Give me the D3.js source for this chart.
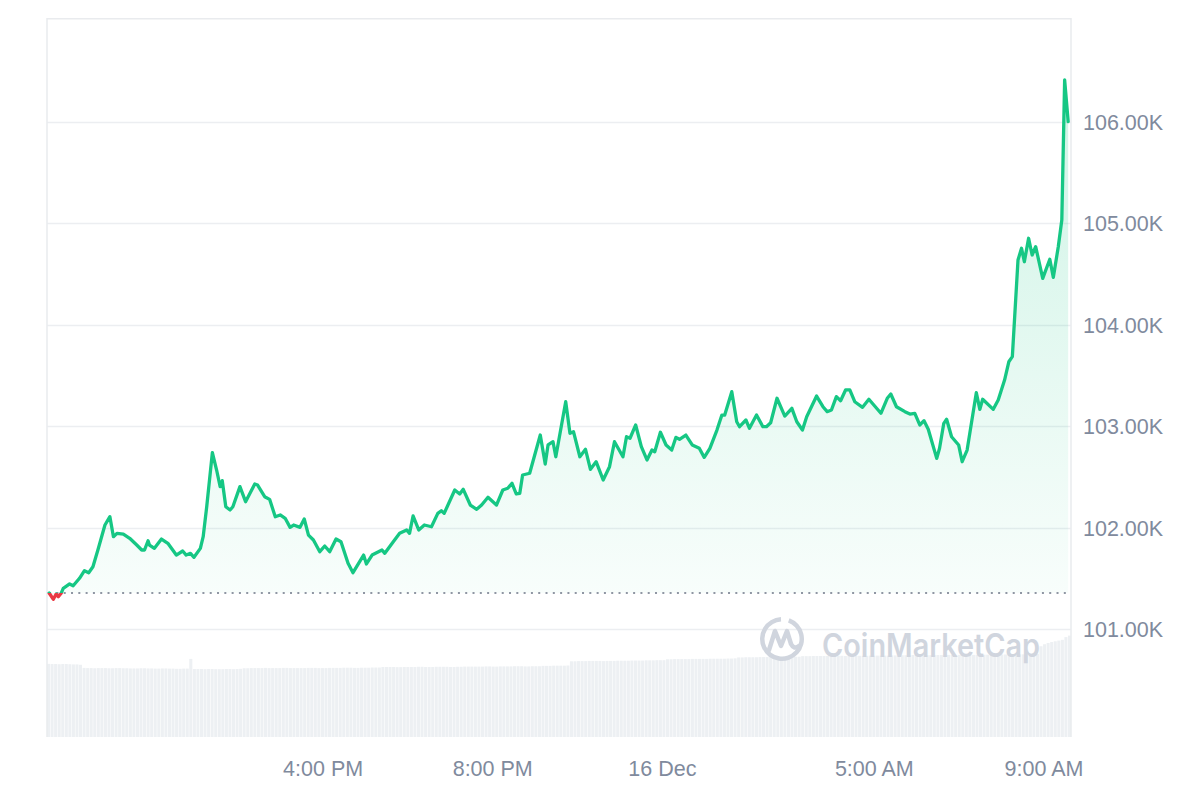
<!DOCTYPE html>
<html>
<head>
<meta charset="utf-8">
<script src="https://cdn.jsdelivr.net/npm/d3@7"></script>
<style>
  html, body { margin: 0; padding: 0; background: #ffffff; }
  svg { display: block; }
</style>
</head>
<body>
<svg id="chart" width="1200" height="800"></svg>
<script>
// ---- DATA (minutes since 15 Dec 2024 00:00, price in USD) ----
const times = [
  573,579,583,586,590,593,602,607,616,623,629,635,642,652,659,664,669,678,687,697,
  704,708,713,715,722,732,741,753,762,767,773,778,787,791,796,804,810,815,818,823,
  829,833,843,851,864,868,878,885,893,900,907,914,919,928,934,940,947,956,963,970,
  979,986,996,1003,1018,1022,1030,1044,1048,1060,1069,1079,1083,1088,1096,1104,1114,1123,1128,1132,
  1147,1154,1159,1169,1178,1185,1194,1206,1215,1222,1228,1234,1239,1243,1253,1268,1275,1279,1286,1290,
  1304,1310,1315,1324,1332,1339,1347,1357,1366,1373,1385,1390,1395,1403,1411,1419,1426,1430,1438,1446,
  1454,1460,1465,1474,1483,1490,1493,1500,1508,1518,1525,1529,1539,1546,1550,1559,1564,1574,1583,1588,
  1594,1603,1614,1624,1631,1639,1645,1659,1668,1674,1680,1687,1693,1700,1706,1713,1724,1733,1750,1759,
  1764,1772,1784,1791,1798,1805,1811,1817,1829,1833,1839,1843,1850,1860,1865,1872,1885,1890,1894,1909,
  1916,1925,1931,1936,1944,1949,1953,1959,1964,1969,1979,1989,1994,2001,2006,2010,2015
];
const prices = [
  101355,101293,101345,101318,101352,101401,101444,101427,101500,101575,101555,101614,101779,102025,102107,101910,101943,101936,101894,101828,
  101779,101779,101870,101828,101795,101887,101845,101729,101769,101729,101746,101707,101795,101910,102205,102738,102567,102403,102462,102205,
  102173,102205,102403,102255,102429,102419,102304,102278,102107,102124,102091,102002,102025,102002,102084,101926,101877,101762,101818,101762,
  101887,101860,101648,101555,101729,101641,101729,101779,101746,101860,101943,101976,101943,102114,101976,102025,102008,102140,102166,102140,
  102370,102331,102377,102222,102180,102222,102298,102222,102370,102387,102436,102331,102337,102518,102535,102912,102626,102814,102846,102698,
  103240,102929,102945,102698,102771,102574,102649,102469,102600,102846,102698,102895,102880,103011,102797,102666,102764,102747,102939,102814,
  102764,102889,102870,102912,102814,102791,102781,102692,102781,102961,103109,103109,103339,103043,102994,103060,102978,103109,102994,102994,
  103033,103274,103099,103175,103043,102961,103092,103296,103191,103142,103158,103290,103250,103356,103356,103240,103185,103264,103126,103274,
  103316,103191,103142,103119,103126,103011,103053,102968,102682,102781,103027,103067,102895,102814,102649,102764,103329,103165,103264,103165,
  103257,103454,103634,103684,104637,104752,104620,104851,104686,104768,104456,104644,104466,104768,105031,106411,106000
];
const openPrice = 101355;
// rolling 24h volume, billions USD, one bar per 5 minutes
const volumes = [
  39.9,39.8,39.8,39.7,39.8,39.8,39.7,39.6,39.6,39.4,37.7,37.6,37.6,37.5,37.6,37.6,37.6,37.5,37.5,37.6,37.6,37.5,37.5,37.4,
  37.4,37.4,37.5,37.5,37.4,37.4,37.3,37.3,37.4,37.4,37.3,37.3,37.2,37.2,37.3,37.3,42.6,37.1,37.1,37.1,37.0,37.1,37.1,37.0,
  37.0,37.0,37.1,37.1,37.0,37.1,37.2,37.5,37.5,37.6,37.6,37.6,37.6,37.7,37.6,37.6,37.6,37.6,37.7,37.7,37.6,37.6,37.6,37.6,
  37.6,37.7,37.7,37.7,37.6,37.6,37.6,37.7,37.7,37.7,37.7,37.8,37.8,37.8,37.7,37.7,37.8,37.8,37.8,37.9,37.9,37.9,38.2,38.2,
  38.2,38.2,38.1,38.1,38.2,38.2,38.2,38.2,38.3,38.3,38.2,38.2,38.2,38.3,38.3,38.3,38.3,38.2,38.2,38.3,38.3,38.4,38.4,38.4,
  38.4,38.4,38.4,38.5,38.5,38.4,38.4,38.5,38.5,38.5,38.5,38.6,38.6,38.6,38.5,38.5,38.6,38.6,38.6,38.8,38.8,38.8,38.9,38.9,
  38.9,38.9,39.0,41.3,41.3,41.4,41.4,41.4,41.5,41.5,41.5,41.5,41.4,41.5,41.5,41.5,41.6,41.6,41.6,41.6,41.7,41.7,41.7,41.7,
  41.8,41.8,41.8,41.9,41.9,41.9,42.4,42.4,42.5,42.5,42.5,42.5,42.5,42.6,42.6,42.6,42.6,42.6,42.7,42.7,42.7,42.7,42.7,42.8,
  42.8,42.9,43.4,43.4,43.5,43.5,43.5,43.5,43.6,43.6,43.6,43.6,43.6,43.7,43.7,43.7,43.7,43.8,43.8,43.8,44.1,44.1,44.1,44.2,
  44.2,44.2,44.2,44.2,44.3,44.3,44.3,44.3,44.2,44.2,44.2,44.3,44.3,44.3,44.3,44.4,44.4,44.4,44.4,44.4,44.4,44.5,44.5,44.5,
  44.6,44.6,44.6,44.7,44.7,44.7,44.7,44.6,44.6,44.7,44.7,44.7,44.7,44.8,44.8,44.8,44.8,44.8,44.7,44.7,44.8,44.8,44.8,44.9,
  44.9,44.9,44.9,45.0,45.0,45.0,45.0,45.1,45.1,45.1,45.1,45.2,45.2,45.3,45.4,49.5,50.6,51.3,51.8,52.2,52.6,53.0,54.5,55.3
];
const yTicks = [101000, 102000, 103000, 104000, 105000, 106000];
const xTickMinutes = [960, 1200, 1440, 1740, 1980];
const xTickLabels = ["4:00 PM", "8:00 PM", "16 Dec", "5:00 AM", "9:00 AM"];
const domainStartMin = 570, domainEndMin = 2019;

// ---- CHART ----
const base = new Date(2024, 11, 15, 0, 0);
const toDate = m => new Date(base.getTime() + m * 60000);
const data = times.map((t, i) => ({ t: toDate(t), p: prices[i] }));

const L = 47, R = 1071, T = 18.7, B = 737;
const svg = d3.select("#chart");

const x = d3.scaleTime().domain([toDate(domainStartMin), toDate(domainEndMin)]).range([L, R]);
const y = d3.scaleLinear().domain([100000, 107000]).range([730.5, 20.2]);
const vy = d3.scaleLinear().domain([0, 60]).range([B, B - 110]);
const band = d3.scaleBand().domain(d3.range(volumes.length)).range([L, R]).paddingInner(0.15);

const green = "#16c784", red = "#ea3943", textGray = "#808a9d";
const yBase = y(openPrice);

const defs = svg.append("defs");
const grad = defs.append("linearGradient").attr("id", "gGreen")
  .attr("gradientUnits", "userSpaceOnUse")
  .attr("x1", 0).attr("x2", 0).attr("y1", y(d3.max(prices))).attr("y2", yBase);
grad.append("stop").attr("offset", 0).attr("stop-color", green).attr("stop-opacity", 0.21);
grad.append("stop").attr("offset", 1).attr("stop-color", green).attr("stop-opacity", 0.03);
defs.append("clipPath").attr("id", "above").append("rect")
  .attr("x", 0).attr("y", 0).attr("width", 1200).attr("height", yBase);
defs.append("clipPath").attr("id", "below").append("rect")
  .attr("x", 0).attr("y", yBase).attr("width", 1200).attr("height", 800 - yBase);

// volume bars
svg.append("g").selectAll("rect").data(volumes).join("rect")
  .attr("x", (d, i) => band(i))
  .attr("width", band.bandwidth())
  .attr("y", d => vy(d))
  .attr("height", d => B - vy(d))
  .attr("fill", "#edf0f3");

// gridlines
svg.append("g").selectAll("line").data(yTicks).join("line")
  .attr("x1", L).attr("x2", R)
  .attr("y1", d => Math.round(y(d)) + 0.5).attr("y2", d => Math.round(y(d)) + 0.5)
  .attr("stroke", "#eceef1").attr("stroke-width", 1.5);

// frame
svg.append("path")
  .attr("d", `M${L},${B} L${L},${T} L${R},${T} L${R},${B}`)
  .attr("fill", "none").attr("stroke", "#e9ebee").attr("stroke-width", 1.5);

// watermark
const wm = svg.append("g").attr("fill", "none").attr("stroke", "#d0d5de");
wm.append("path")
  .attr("d", d3.arc()({ innerRadius: 17.5, outerRadius: 22, startAngle: 0.35, endAngle: 2 * Math.PI - 0.05 }))
  .attr("transform", "translate(782,639)").attr("fill", "#d0d5de").attr("stroke", "none");
wm.append("path")
  .attr("d", "M769,650 L775,631 L781,646 L787,631 L791,644 Q794,650 799,646")
  .attr("stroke-width", 4.5).attr("stroke-linejoin", "round").attr("stroke-linecap", "round");
svg.append("text")
  .attr("x", 822).attr("y", 656.5)
  .attr("font-family", "Inter, 'Noto Sans', sans-serif").attr("font-weight", 600)
  .attr("font-size", 32).attr("textLength", 218).attr("lengthAdjust", "spacingAndGlyphs")
  .attr("fill", "#d0d5de").text("CoinMarketCap");

// areas
const area = d3.area().x(d => x(d.t)).y0(yBase).y1(d => y(d.p));
svg.append("path").datum(data).attr("d", area)
  .attr("fill", "url(#gGreen)").attr("clip-path", "url(#above)");
svg.append("path").datum(data).attr("d", area)
  .attr("fill", red).attr("fill-opacity", 0.06).attr("clip-path", "url(#below)");

// opening price dotted line
svg.append("line")
  .attr("x1", x(data[0].t)).attr("x2", R)
  .attr("y1", yBase).attr("y2", yBase)
  .attr("stroke", "#8f96a3").attr("stroke-width", 2).attr("stroke-dasharray", "2,5.3");

// price line
const line = d3.line().x(d => x(d.t)).y(d => y(d.p));
svg.append("path").datum(data).attr("d", line)
  .attr("fill", "none").attr("stroke", green).attr("stroke-width", 3.3)
  .attr("stroke-linejoin", "round").attr("stroke-linecap", "round")
  .attr("clip-path", "url(#above)");
svg.append("path").datum(data).attr("d", line)
  .attr("fill", "none").attr("stroke", red).attr("stroke-width", 3.3)
  .attr("stroke-linejoin", "round").attr("stroke-linecap", "round")
  .attr("clip-path", "url(#below)");

// y axis labels
const yAxis = d3.axisRight(y).tickValues(yTicks).tickSize(0).tickPadding(0)
  .tickFormat(d => (d / 1000).toFixed(2) + "K");
const gy = svg.append("g").attr("transform", `translate(1083,0)`).call(yAxis);
gy.select(".domain").remove();
gy.selectAll("text").attr("font-family", "'Liberation Sans', Arial, sans-serif")
  .attr("font-size", 21.5).attr("fill", textGray).attr("dy", "0.36em").attr("x", 0);

// x axis labels
const xAxis = d3.axisBottom(x).tickValues(xTickMinutes.map(toDate)).tickSize(0).tickPadding(0)
  .tickFormat((d, i) => xTickLabels[i]);
const gx = svg.append("g").attr("transform", `translate(0,761)`).call(xAxis);
gx.select(".domain").remove();
gx.selectAll("text").attr("font-family", "'Liberation Sans', Arial, sans-serif")
  .attr("font-size", 21.5).attr("fill", textGray).attr("dy", "0.71em").attr("y", 0);
</script>
</body>
</html>
